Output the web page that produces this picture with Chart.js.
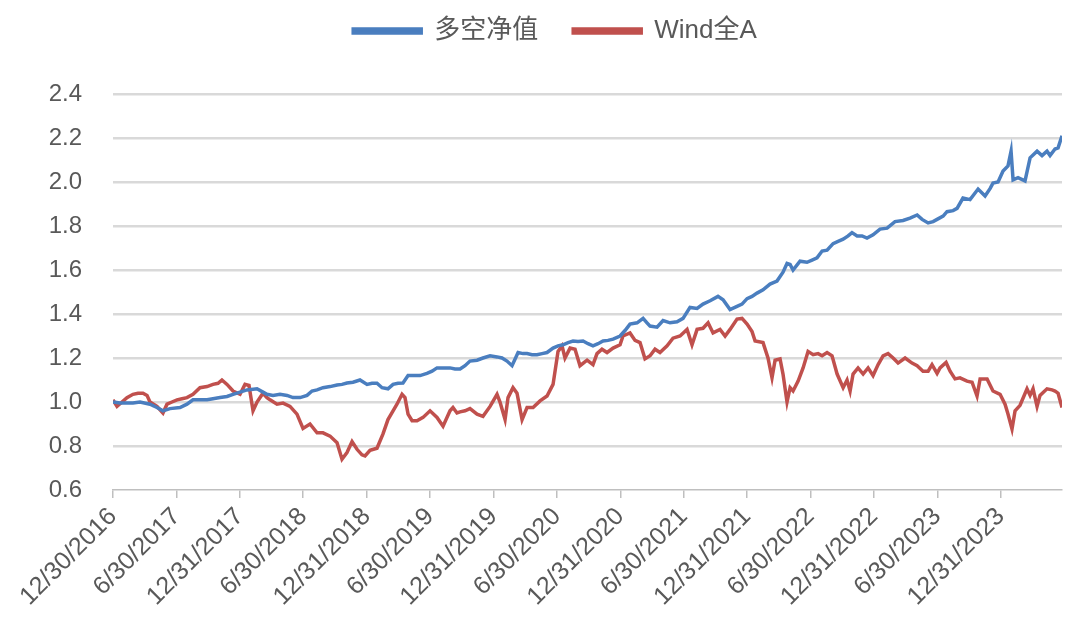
<!DOCTYPE html>
<html>
<head>
<meta charset="utf-8">
<script src="https://cdn.jsdelivr.net/npm/chart.js@4"></script>
<style>
  html, body { margin: 0; padding: 0; background: #fff; }
</style>
</head>
<body>
<canvas id="navChart" width="1080" height="630"></canvas>
<script>
// x positions are months after 12/30/2016
const tickMonths = [0, 6, 12, 18, 24, 30, 36, 42, 48, 54, 60, 66, 72, 78, 84];
const tickLabels = ["12/30/2016", "6/30/2017", "12/31/2017", "6/30/2018", "12/31/2018",
  "6/30/2019", "12/31/2019", "6/30/2020", "12/31/2020", "6/30/2021", "12/31/2021",
  "6/30/2022", "12/31/2022", "6/30/2023", "12/31/2023"];

// 多空净值
const lsMonths = [0,0.66,1.32,1.89,2.55,3.5,4.16,4.73,5.39,6.34,
  7,7.57,8.23,8.9,9.46,10.13,10.79,11.36,12.02,12.68,
  13.63,14.19,14.57,15.14,15.8,16.47,17.03,17.7,18.36,18.83,
  19.31,19.87,20.54,21.2,21.67,22.14,22.71,23.37,24.04,24.51,
  24.98,25.46,26.02,26.5,26.97,27.44,27.92,28.39,29.05,29.71,
  30.19,30.66,31.23,31.89,32.36,32.84,33.31,33.78,34.45,35.01,
  35.68,36.34,36.81,37.28,37.76,38.33,38.8,39.18,39.65,40.12,
  40.6,41.07,41.64,42.11,42.59,43.06,43.53,44,44.48,44.95,
  45.42,45.9,46.37,46.84,47.32,47.98,48.45,48.92,49.59,50.16,
  50.53,50.82,51.48,52.05,52.71,53.37,53.94,54.6,55.27,55.83,
  56.5,57.25,57.73,58.39,59.05,59.52,60,60.47,60.94,61.51,
  62.17,62.83,63.4,63.78,64.07,64.35,65.01,65.67,66.15,66.62,
  67.1,67.57,68.14,68.61,69.09,69.56,69.93,70.41,70.88,71.35,
  71.92,72.58,73.25,74,74.76,75.42,76.09,76.56,77.13,77.6,
  77.98,78.55,78.92,79.49,79.87,80.43,81.1,81.86,82.52,82.99,
  83.27,83.75,84.22,84.69,84.98,85.17,85.64,86.3,86.78,87.44,
  87.91,88.38,88.67,89.14,89.43,89.8];
const lsValues = [1.0,0.995,0.995,0.995,1.0,0.99,0.975,0.96,0.97,0.975,
  0.99,1.01,1.01,1.01,1.015,1.02,1.025,1.035,1.045,1.055,
  1.06,1.045,1.035,1.03,1.035,1.03,1.02,1.02,1.03,1.05,
  1.055,1.065,1.07,1.077,1.08,1.086,1.09,1.1,1.08,1.085,
  1.085,1.065,1.06,1.08,1.085,1.086,1.12,1.12,1.12,1.13,
  1.14,1.155,1.155,1.155,1.15,1.15,1.165,1.186,1.19,1.2,
  1.21,1.205,1.2,1.186,1.165,1.225,1.22,1.22,1.215,1.215,
  1.22,1.225,1.245,1.255,1.26,1.27,1.277,1.275,1.277,1.265,
  1.255,1.265,1.277,1.28,1.286,1.3,1.325,1.354,1.36,1.38,
  1.36,1.345,1.34,1.37,1.36,1.365,1.38,1.43,1.425,1.445,
  1.46,1.48,1.465,1.42,1.435,1.445,1.47,1.48,1.495,1.51,
  1.536,1.55,1.59,1.63,1.625,1.6,1.64,1.635,1.645,1.655,
  1.686,1.69,1.72,1.73,1.74,1.755,1.77,1.755,1.755,1.745,
  1.76,1.786,1.79,1.82,1.825,1.836,1.85,1.83,1.814,1.82,
  1.83,1.845,1.865,1.87,1.88,1.927,1.92,1.968,1.936,1.97,
  1.995,2.0,2.05,2.073,2.14,2.01,2.02,2.005,2.11,2.14,
  2.12,2.14,2.12,2.15,2.155,2.21];

// Wind全A
const windMonths = [0,0.38,0.85,1.32,1.89,2.37,2.84,3.22,3.5,4.16,
  4.45,4.73,5.11,5.58,6.06,6.53,7,7.57,8.23,8.9,
  9.46,9.94,10.31,10.79,11.36,12.02,12.49,12.87,13.25,13.63,
  14.19,14.57,14.86,15.52,16.09,16.75,17.41,17.98,18.64,19.31,
  19.87,20.54,21.2,21.67,22.14,22.62,23.09,23.56,23.85,24.32,
  24.98,25.55,26.02,26.5,26.87,27.35,27.63,27.92,28.3,28.77,
  29.34,30,30.66,31.23,31.89,32.17,32.55,32.84,33.31,33.78,
  34.45,35.01,35.68,36.34,36.62,37.1,37.38,37.85,38.23,38.71,
  39.18,39.75,40.41,41.07,41.64,42.11,42.49,42.77,43.25,43.72,
  44.19,44.86,45.42,45.8,46.27,46.75,47.32,47.98,48.26,48.92,
  49.4,49.87,50.34,50.82,51.29,51.76,52.43,52.99,53.66,54.32,
  54.79,55.27,55.83,56.31,56.78,57.44,57.92,58.39,59.05,59.52,
  60,60.47,60.76,61.51,61.98,62.36,62.65,63.12,63.4,63.78,
  64.07,64.35,64.83,65.3,65.77,66.25,66.72,67.1,67.57,68.04,
  68.52,69.09,69.46,69.75,70.03,70.5,70.98,71.45,71.92,72.4,
  72.87,73.34,73.82,74.29,74.95,75.61,76.09,76.65,77.13,77.5,
  77.98,78.26,78.83,79.21,79.68,80.15,80.81,81.29,81.76,82.05,
  82.71,83.27,83.94,84.41,84.69,85.07,85.36,85.83,86.49,86.78,
  87.06,87.44,87.72,88.38,88.86,89.14,89.43,89.8];
const windValues = [1.01,0.98,1.0,1.02,1.035,1.04,1.04,1.03,1.0,0.98,
  0.965,0.95,0.99,1.0,1.01,1.015,1.02,1.035,1.065,1.07,
  1.08,1.085,1.1,1.08,1.05,1.035,1.08,1.075,0.96,1.0,
  1.04,1.02,1.01,0.99,0.995,0.98,0.945,0.88,0.9,0.86,
  0.86,0.845,0.815,0.74,0.77,0.82,0.785,0.76,0.755,0.78,
  0.79,0.855,0.92,0.96,0.99,1.035,1.02,0.945,0.915,0.915,
  0.93,0.96,0.93,0.89,0.96,0.975,0.95,0.955,0.96,0.97,
  0.945,0.935,0.98,1.035,1.0,0.92,1.02,1.065,1.04,0.92,
  0.975,0.975,1.005,1.027,1.08,1.23,1.255,1.2,1.245,1.24,
  1.165,1.19,1.17,1.22,1.24,1.225,1.245,1.26,1.3,1.314,
  1.28,1.27,1.196,1.21,1.24,1.225,1.255,1.29,1.3,1.33,
  1.26,1.33,1.335,1.36,1.314,1.33,1.3,1.33,1.377,1.38,
  1.354,1.32,1.277,1.27,1.2,1.11,1.19,1.196,1.127,1.0,
  1.065,1.05,1.095,1.155,1.23,1.215,1.22,1.21,1.225,1.21,
  1.127,1.065,1.1,1.05,1.127,1.155,1.127,1.155,1.12,1.17,
  1.21,1.22,1.2,1.177,1.2,1.177,1.165,1.14,1.14,1.17,
  1.13,1.155,1.18,1.14,1.105,1.11,1.095,1.09,1.027,1.105,
  1.105,1.05,1.035,0.99,0.945,0.877,0.96,0.985,1.06,1.03,
  1.06,0.98,1.03,1.06,1.055,1.05,1.04,0.975];

const blue = '#4a7ebf';
const red = '#c0504d';
const textColor = '#595959';
const fontFamily = '"Liberation Sans", Arial, "Noto Sans CJK SC", sans-serif';

// extra room under the legend, and nudge it right a bit like the original
const legendTweak = {
  id: 'legendTweak',
  beforeInit(chart) {
    const fit = chart.legend.fit;
    chart.legend.fit = function () {
      fit.bind(chart.legend)();
      this.height += 40;
    };
  },
  afterLayout(chart) {
    chart.legend.left += 24;
    chart.legend.right += 24;
  }
};

const ctx = document.getElementById('navChart').getContext('2d');

new Chart(ctx, {
  type: 'line',
  data: {
    datasets: [{
      label: '多空净值',
      data: lsMonths.map((m, i) => ({x: m, y: lsValues[i]})),
      borderColor: blue,
      backgroundColor: blue,
      borderWidth: 3.5,
      pointRadius: 0,
      tension: 0
    }, {
      label: 'Wind全A',
      data: windMonths.map((m, i) => ({x: m, y: windValues[i]})),
      borderColor: red,
      backgroundColor: red,
      borderWidth: 3.5,
      pointRadius: 0,
      tension: 0
    }]
  },
  options: {
    responsive: false,
    animation: false,
    layout: { padding: { top: -17, right: 18, bottom: 0, left: 0 } },
    plugins: {
      legend: {
        position: 'top',
        labels: {
          boxWidth: 68,
          boxHeight: 4,
          padding: 35,
          color: textColor,
          font: { family: fontFamily, size: 26 }
        }
      },
      tooltip: { enabled: false }
    },
    scales: {
      x: {
        type: 'linear',
        min: 0,
        max: 89.8,
        afterBuildTicks(scale) {
          scale.ticks = tickMonths.map(v => ({value: v}));
        },
        afterFit(scale) { scale.height = 140; },
        ticks: {
          autoSkip: false,
          minRotation: 45,
          maxRotation: 45,
          padding: 4,
          color: textColor,
          font: { family: fontFamily, size: 25 },
          callback: (v, i) => tickLabels[i]
        },
        grid: {
          drawOnChartArea: false,
          drawTicks: true,
          tickLength: 8,
          color: '#bfbfbf',
          lineWidth: 1.5
        },
        border: { display: true, color: '#bfbfbf', width: 1.5 }
      },
      y: {
        min: 0.6,
        max: 2.4,
        afterFit(scale) { scale.width = 113; },
        ticks: {
          stepSize: 0.2,
          padding: 31,
          color: textColor,
          font: { family: fontFamily, size: 24 },
          callback: v => v.toFixed(1)
        },
        grid: {
          drawTicks: false,
          lineWidth: 2.5,
          color: c => (c.tick && c.tick.value < 0.65) ? 'rgba(0,0,0,0)' : '#d9d9d9'
        },
        border: { display: false }
      }
    }
  },
  plugins: [legendTweak]
});
</script>
</body>
</html>
